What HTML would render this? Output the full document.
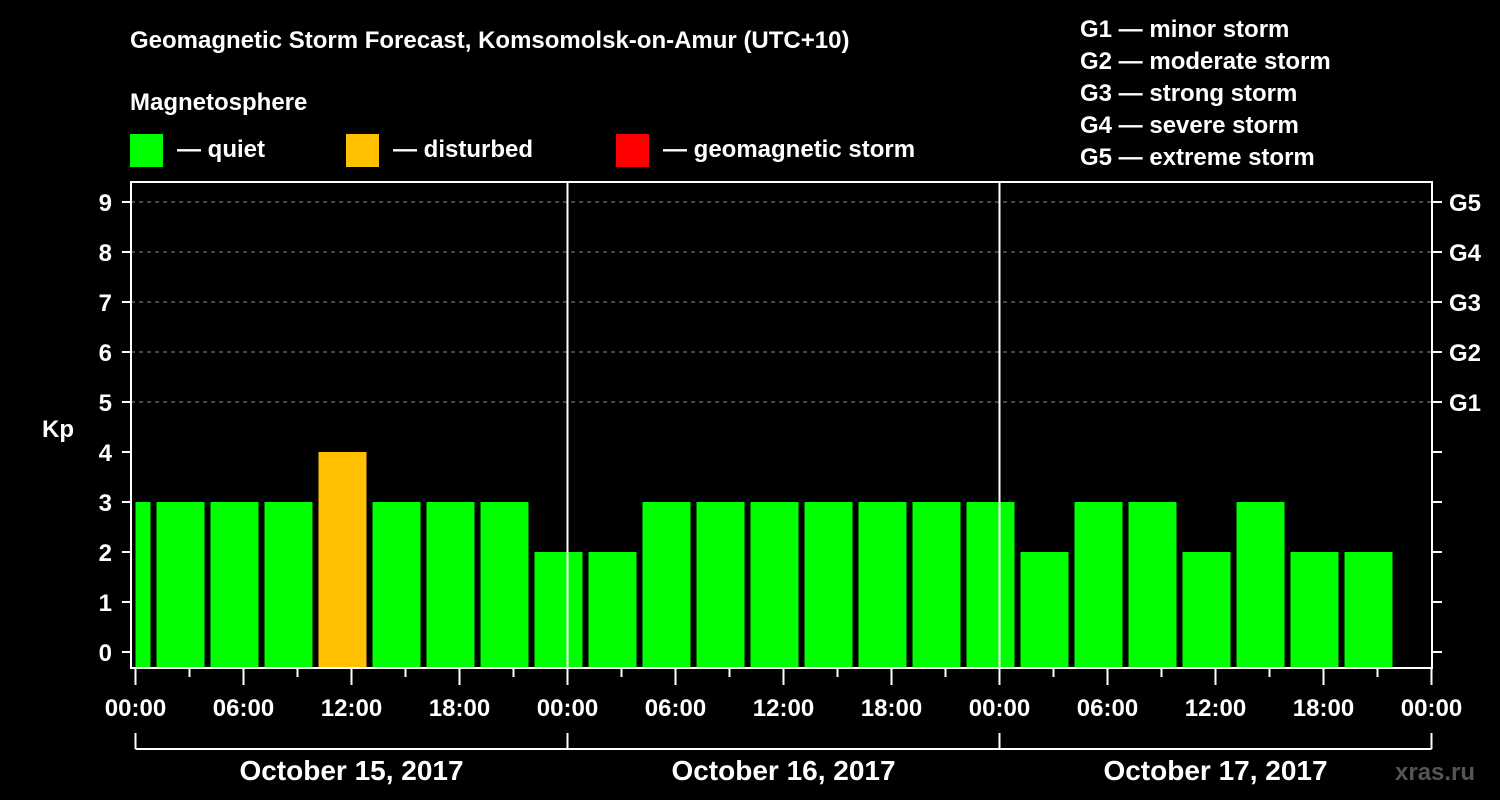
<!DOCTYPE html>
<html><head><meta charset="utf-8"><style>
html,body{margin:0;padding:0;background:#000;width:1500px;height:800px;overflow:hidden}
svg text{font-family:"Liberation Sans",Arial,sans-serif;font-weight:bold;fill:#fff}
</style></head><body>
<svg id="chart" width="1500" height="800" xmlns="http://www.w3.org/2000/svg">
<text x="130" y="48" font-size="24">Geomagnetic Storm Forecast, Komsomolsk-on-Amur (UTC+10)</text>
<text x="130" y="110" font-size="24">Magnetosphere</text>
<rect x="130" y="134" width="33" height="33" fill="#00ff00"/>
<text x="177" y="157" font-size="24">— quiet</text>
<rect x="346" y="134" width="33" height="33" fill="#ffc000"/>
<text x="393" y="157" font-size="24">— disturbed</text>
<rect x="616" y="134" width="33" height="33" fill="#ff0000"/>
<text x="663" y="157" font-size="24">— geomagnetic storm</text>
<g font-size="24">
<text x="1080" y="37">G1 — minor storm</text>
<text x="1080" y="69">G2 — moderate storm</text>
<text x="1080" y="101">G3 — strong storm</text>
<text x="1080" y="133">G4 — severe storm</text>
<text x="1080" y="165">G5 — extreme storm</text>
</g>
<text x="42" y="437" font-size="24">Kp</text>
<text x="1395" y="780" font-size="24" style="fill:#555">xras.ru</text>
<g id="grid"></g><g id="bars"></g><g id="axes"></g>
</svg>
<script>
const startOffsetHours = [-2,1,4,7,10,13,16,19,22,25,28,31,34,37,40,43,46,49,52,55,58,61,64,67];
const kpValues = [3,3,3,3,4,3,3,3,2,2,3,3,3,3,3,3,3,2,3,3,2,3,2,2];
const hourTicks = ["00:00","06:00","12:00","18:00"];
const dayLabels = ["October 15, 2017","October 16, 2017","October 17, 2017"];
const gLabels = ["G1","G2","G3","G4","G5"];
const NS="http://www.w3.org/2000/svg";
const X0=135.5, PXH=432/24, L=131, R=1432, T=182, B=668;
const x=h=>X0+h*PXH;
const y=k=>652-50*k;
function mk(tag,attrs,parent){const e=document.createElementNS(NS,tag);for(const k in attrs)e.setAttribute(k,attrs[k]);parent.appendChild(e);return e;}
const grid=document.getElementById('grid'),bars=document.getElementById('bars'),axes=document.getElementById('axes');
for(let k=5;k<=9;k++){const l=mk('line',{x1:L,x2:R,y1:y(k),y2:y(k),stroke:'#888','stroke-width':1,'stroke-dasharray':'4,4'},grid);

}
kpValues.forEach((v,i)=>{
 let a=x(startOffsetHours[i])+3, b=x(startOffsetHours[i]+3)-3;
 a=Math.max(a,X0); b=Math.min(b,R-3.5);
 const r=mk('rect',{x:a,y:y(v),width:b-a,height:B-y(v),fill:v>=5?'#ff0000':(v>=4?'#ffc000':'#00ff00')},bars);
 
 
});
const fr=mk('path',{d:`M${L},${B}V${T}H${R}V${B}Z`,fill:'none',stroke:'#fff','stroke-width':2},axes);


for(let d=1;d<=2;d++){const l=mk('line',{x1:x(24*d),x2:x(24*d),y1:T,y2:B,stroke:'#fff','stroke-width':2},axes);

}
for(let k=0;k<=9;k++){
 mk('line',{x1:122,x2:L,y1:y(k),y2:y(k),stroke:'#fff','stroke-width':2},axes);
 mk('line',{x1:R,x2:1442,y1:y(k),y2:y(k),stroke:'#fff','stroke-width':2},axes);
 const t=mk('text',{x:112,y:y(k)+9,'text-anchor':'end','font-size':24},axes);t.textContent=k;
 
 
}
gLabels.forEach((g,i)=>{const t=mk('text',{x:1449,y:y(5+i)+9,'font-size':24},axes);t.textContent=g;
 
 });
for(let h=0;h<=72;h+=3){const major=h%6===0;
 mk('line',{x1:x(h),x2:x(h),y1:B,y2:major?685:677,stroke:'#fff','stroke-width':2},axes);
 if(major){const t=mk('text',{x:x(h),y:716,'text-anchor':'middle','font-size':24},axes);t.textContent=hourTicks[(h/6)%4];
 
 }
}
mk('line',{x1:x(0),x2:x(72),y1:749,y2:749,stroke:'#fff','stroke-width':2},axes);
for(let d=0;d<=3;d++)mk('line',{x1:x(24*d),x2:x(24*d),y1:733,y2:749,stroke:'#fff','stroke-width':2},axes);
dayLabels.forEach((s,d)=>{const t=mk('text',{x:x(24*d+12),y:780,'text-anchor':'middle','font-size':28},axes);t.textContent=s;
 
 });
</script>
</body></html>
